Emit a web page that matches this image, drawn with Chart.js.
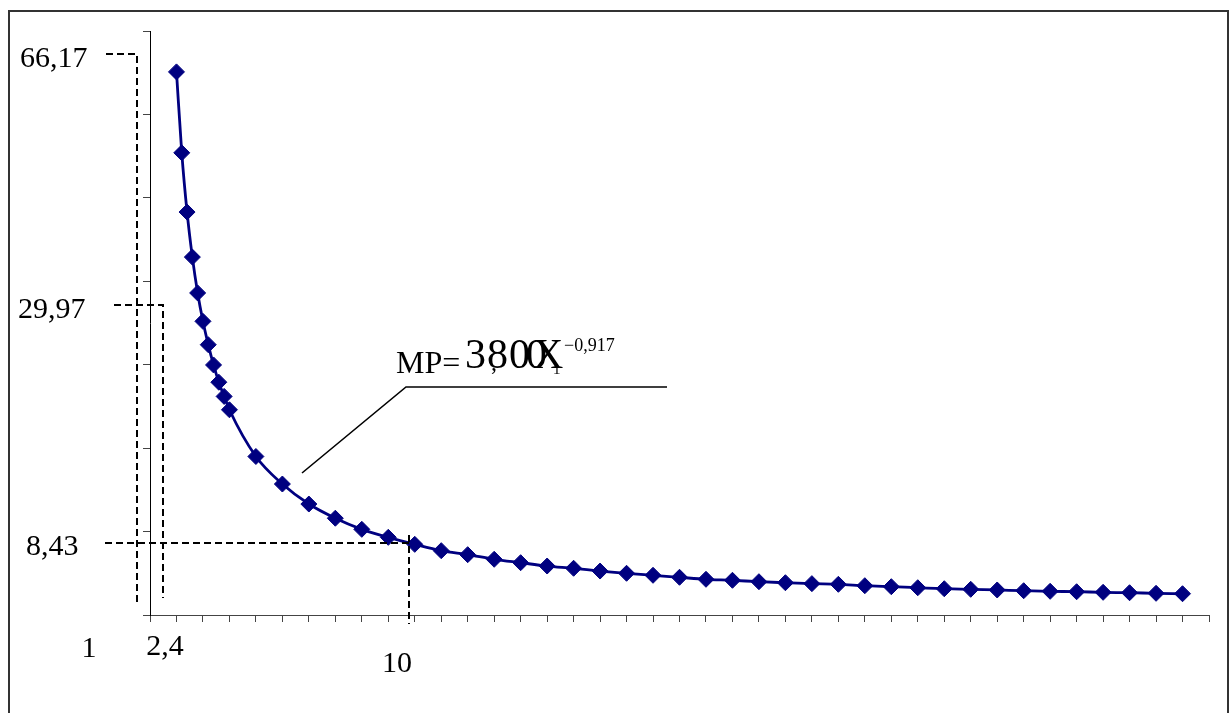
<!DOCTYPE html>
<html>
<head>
<meta charset="utf-8">
<script src="https://cdn.jsdelivr.net/npm/chart.js@4"></script>
<style>
  html, body { margin: 0; padding: 0; background: #fff; }
  #wrap { width: 1230px; height: 713px; position: relative; }
</style>
</head>
<body>
<div id="wrap"><canvas id="mp"></canvas></div>
<script>
"use strict";

// x values of the points (X)
const xValues = [1, 1.2, 1.4, 1.6, 1.8, 2, 2.2, 2.4, 2.6, 2.8, 3,
  4, 5, 6, 7, 8, 9, 10, 11, 12, 13, 14, 15, 16, 17, 18, 19, 20,
  21, 22, 23, 24, 25, 26, 27, 28, 29, 30, 31, 32, 33, 34, 35, 36, 37, 38, 39];

// MP values
const mpValues = [65.1, 55.4, 48.3, 42.9, 38.6, 35.2, 32.4, 29.97, 27.9, 26.2, 24.6,
  19.0, 15.7, 13.3, 11.6, 10.27, 9.31, 8.47, 7.71, 7.23, 6.68, 6.27, 5.87, 5.6, 5.27, 5.0, 4.76, 4.52,
  4.28, 4.16, 3.99, 3.87, 3.76, 3.68, 3.51, 3.39, 3.27, 3.15, 3.08, 3.0, 2.91, 2.84, 2.79, 2.72, 2.67, 2.6, 2.55];

// hand placed labels
const yMarks = ["66,17", "29,97", "8,43"];
const xMarks = ["1", "2,4", "10"];

const points = xValues.map((x, i) => ({ x: x, y: mpValues[i] }));

const serif = "'Liberation Serif', 'DejaVu Serif', serif";

const extras = {
  id: "extras",
  afterDraw(chart) {
    const ctx = chart.ctx;
    ctx.save();

    // outer frame
    ctx.strokeStyle = "#333";
    ctx.lineWidth = 2;
    ctx.strokeRect(9, 11, 1219, 730);

    // dashed guide lines
    ctx.strokeStyle = "#000";
    ctx.lineWidth = 2;
    ctx.setLineDash([7, 4]);
    ctx.beginPath();
    ctx.moveTo(106, 54); ctx.lineTo(137, 54); ctx.lineTo(137, 604);
    ctx.moveTo(114, 305); ctx.lineTo(163, 305); ctx.lineTo(163, 598);
    ctx.moveTo(105, 543); ctx.lineTo(409, 543);
    ctx.moveTo(409, 535); ctx.lineTo(409, 624);
    ctx.stroke();
    ctx.setLineDash([]);

    // leader line for the formula
    ctx.lineWidth = 1.6;
    ctx.beginPath();
    ctx.moveTo(302, 473); ctx.lineTo(406, 387); ctx.lineTo(667, 387);
    ctx.stroke();

    // labels
    ctx.fillStyle = "#000";
    ctx.textBaseline = "alphabetic";
    ctx.textAlign = "left";
    ctx.font = "30px " + serif;
    ctx.fillText(yMarks[0], 20, 67);
    ctx.fillText(yMarks[1], 18, 318);
    ctx.fillText(yMarks[2], 26, 555);
    ctx.textAlign = "center";
    ctx.fillText(xMarks[0], 89, 657);
    ctx.fillText(xMarks[1], 165, 655);
    ctx.fillText(xMarks[2], 397, 672);

    // formula MP=3800X^-0,917
    ctx.textAlign = "left";
    ctx.font = "32px " + serif;
    ctx.fillText("MP=", 396, 373);
    ctx.font = "42px " + serif;
    ctx.fillText("3", 465, 368);
    ctx.fillText("8", 487, 368);
    ctx.fillText("0", 509, 368);
    ctx.fillText("0", 526, 368);
    ctx.fillText("X", 533, 368);
    ctx.font = "24px " + serif;
    ctx.fillText(",", 491, 370);
    ctx.font = "15px " + serif;
    ctx.fillText("1", 553, 374);
    ctx.font = "18px " + serif;
    ctx.fillText("\u2212" + "0,917", 564, 351);

    ctx.restore();
  }
};

new Chart(document.getElementById("mp"), {
  type: "scatter",
  data: {
    datasets: [
      {
        label: "MP",
        data: points,
        showLine: true,
        borderColor: "#000080",
        backgroundColor: "#000080",
        borderWidth: 2.8,
        cubicInterpolationMode: "monotone",
        pointStyle: "rectRot",
        pointRadius: 8,
        pointHoverRadius: 8,
        pointBorderWidth: 1,
      },
    ],
  },
  options: {
    responsive: true,
    maintainAspectRatio: false,
    animation: false,
    layout: {
      autoPadding: false,
      padding: { left: 143, right: 21, top: 31, bottom: 91 },
    },
    plugins: {
      legend: { display: false },
      tooltip: { enabled: false },
    },
    scales: {
      x: {
        type: "linear",
        min: 0,
        max: 40,
        ticks: { display: false, stepSize: 1 },
        grid: { drawOnChartArea: false, drawTicks: true, tickLength: 7, color: "#444" },
        border: { display: true, color: "#444", width: 1 },
      },
      y: {
        type: "linear",
        min: 0,
        max: 70,
        ticks: { display: false, stepSize: 10 },
        grid: { drawOnChartArea: false, drawTicks: true, tickLength: 7, color: "#444" },
        border: { display: true, color: "#000", width: 1 },
      },
    },
  },
  plugins: [extras],
});
</script>
</body>
</html>
